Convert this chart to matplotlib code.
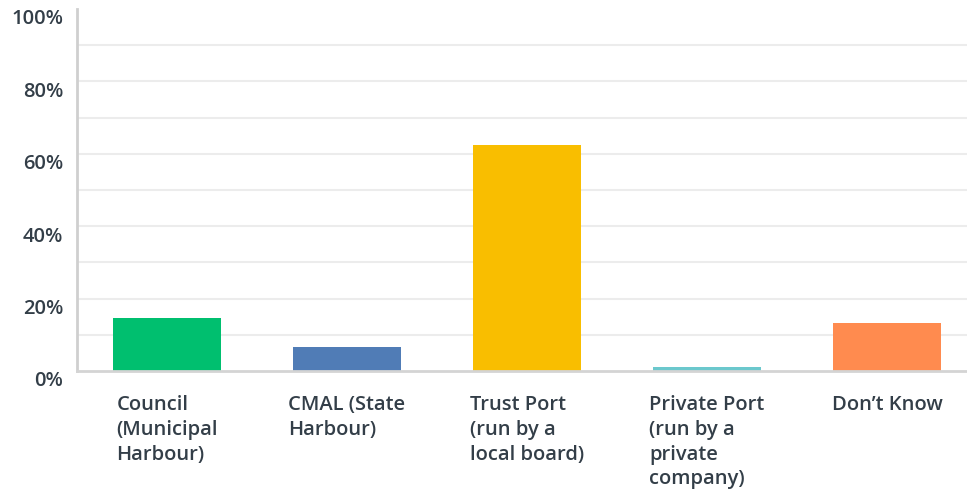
import matplotlib
matplotlib.use("Agg")
import matplotlib.pyplot as plt
import matplotlib.transforms as mtransforms

categories = ["Council\n(Municipal\nHarbour)", "CMAL (State\nHarbour)", "Trust Port\n(run by a\nlocal board)",
              "Private Port\n(run by a\nprivate\ncompany)", "Don\u2019t Know"]
values = [14.7, 6.6, 62.3, 1.1, 13.3]
colors = ["#00bf6f", "#507cb6", "#f9be00", "#6bc8cd", "#ff8b4f"]
yticks = [0, 20, 40, 60, 80, 100]
ytick_labels = ["0%", "20%", "40%", "60%", "80%", "100%"]

W, H = 967, 492
fig = plt.figure(figsize=(W / 100, H / 100), dpi=100)
ax = fig.add_axes([77 / W, (H - 371) / H, 900 / W, (371 - 9) / H])

font = ["Open Sans", "DejaVu Sans"]
txtcol = "#333e48"

x = list(range(len(categories)))
ax.bar(x, values, width=0.605, color=colors, zorder=3)
ax.set_xlim(-0.5, len(categories) - 0.5)
ax.set_ylim(0, 100)

for g in range(10, 100, 10):
    ax.axhline(g, color="#ececec", lw=1.5, zorder=1)

for s in ["top", "right"]:
    ax.spines[s].set_visible(False)
ax.spines["left"].set_color("#cfcfcf")
ax.spines["left"].set_linewidth(2)
ax.spines["bottom"].set_color("#d4d4d4")
ax.spines["bottom"].set_linewidth(2)
ax.spines["left"].set_zorder(4)
ax.spines["bottom"].set_zorder(4)

ax.set_yticks(yticks)
ax.set_yticklabels(ytick_labels, fontfamily=font, fontsize=14.5, fontweight=600, color=txtcol)
ax.tick_params(axis="y", length=0, pad=10)
offset = mtransforms.ScaledTranslation(0, -8 / 100, fig.dpi_scale_trans)
for lbl in ax.get_yticklabels():
    lbl.set_transform(lbl.get_transform() + offset)

ax.set_xticks([])
for i, c in enumerate(categories):
    ax.text(i, 0, c, transform=ax.get_xaxis_transform(), ha="center", va="top",
            multialignment="left", fontfamily=font, fontsize=14.5, fontweight=600,
            color=txtcol, linespacing=1.32,
            ).set_transform(ax.get_xaxis_transform() + mtransforms.ScaledTranslation(0, -24 / 100, fig.dpi_scale_trans))

fig.savefig("out.png", dpi=100)
